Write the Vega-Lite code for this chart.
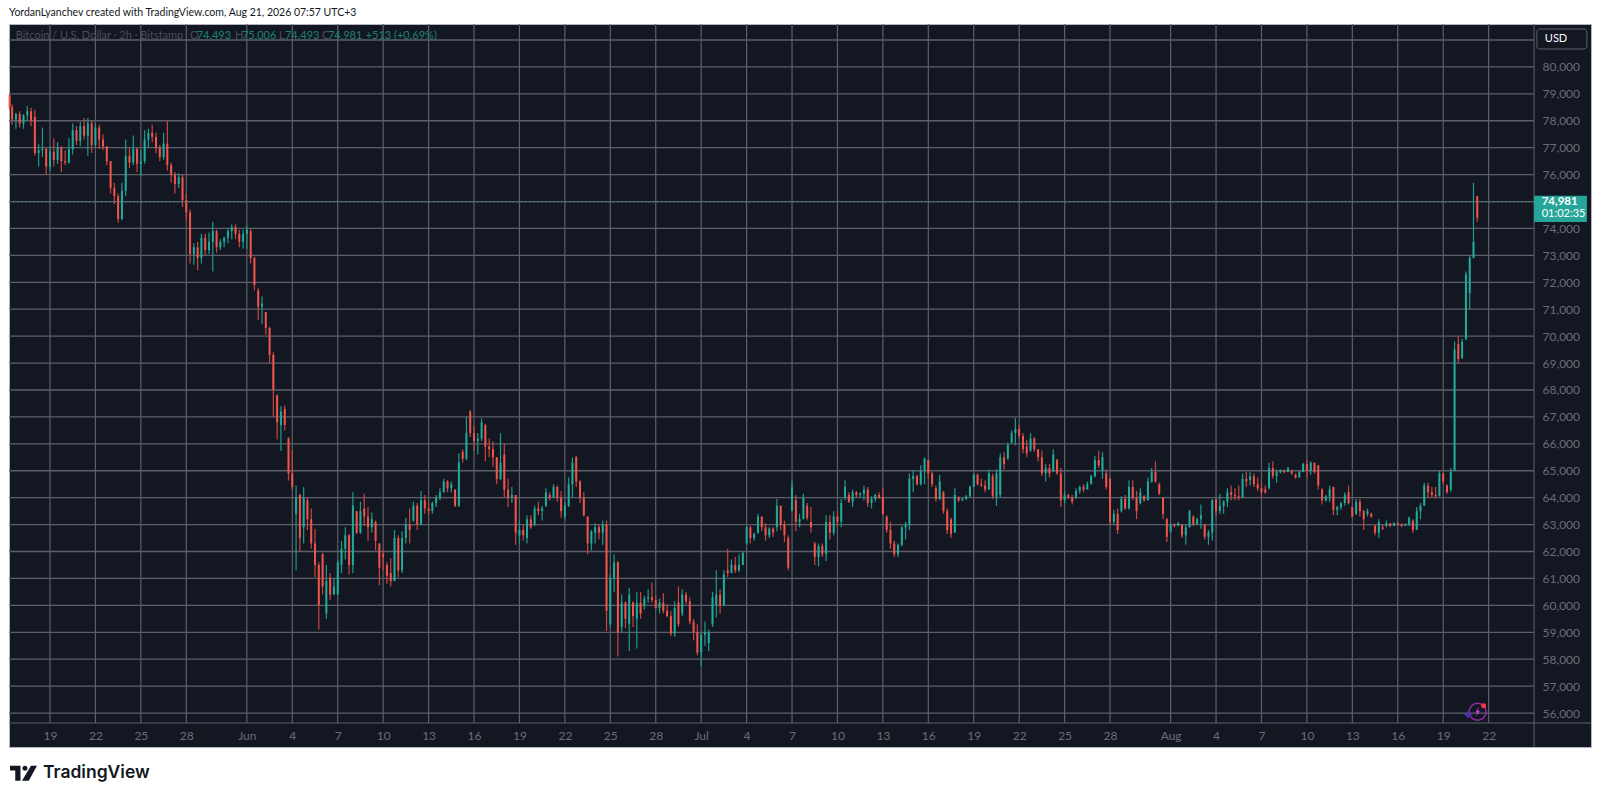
{
"$schema":"https://vega.github.io/schema/vega-lite/v6.json",
"autosize":{"type":"none"},
"width":1582,
"height":723,
"padding":{"left":9,"top":24,"right":9,"bottom":53},
"background":"#ffffff",
"view":{"fill":"#131722","stroke":"#b2b5be"},
"config":{"text":{"font":"Lato"},"axis":{"labelFont":"Lato"}},
"datasets":{
"one":[{}],
"levels":[{"p":56000},{"p":57000},{"p":58000},{"p":59000},{"p":60000},{"p":61000},{"p":62000},{"p":63000},{"p":64000},{"p":65000},{"p":66000},{"p":67000},{"p":68000},{"p":69000},{"p":70000},{"p":71000},{"p":72000},{"p":73000},{"p":74000},{"p":75000},{"p":76000},{"p":77000},{"p":78000},{"p":79000},{"p":80000},{"p":81000}],
"days":[{"d":"2026-05-19T00:00"},{"d":"2026-05-22T00:00"},{"d":"2026-05-25T00:00"},{"d":"2026-05-28T00:00"},{"d":"2026-06-01T00:00"},{"d":"2026-06-04T00:00"},{"d":"2026-06-07T00:00"},{"d":"2026-06-10T00:00"},{"d":"2026-06-13T00:00"},{"d":"2026-06-16T00:00"},{"d":"2026-06-19T00:00"},{"d":"2026-06-22T00:00"},{"d":"2026-06-25T00:00"},{"d":"2026-06-28T00:00"},{"d":"2026-07-01T00:00"},{"d":"2026-07-04T00:00"},{"d":"2026-07-07T00:00"},{"d":"2026-07-10T00:00"},{"d":"2026-07-13T00:00"},{"d":"2026-07-16T00:00"},{"d":"2026-07-19T00:00"},{"d":"2026-07-22T00:00"},{"d":"2026-07-25T00:00"},{"d":"2026-07-28T00:00"},{"d":"2026-08-01T00:00"},{"d":"2026-08-04T00:00"},{"d":"2026-08-07T00:00"},{"d":"2026-08-10T00:00"},{"d":"2026-08-13T00:00"},{"d":"2026-08-16T00:00"},{"d":"2026-08-19T00:00"},{"d":"2026-08-22T00:00"}],
"candles":[
{"t":"2026-05-16T08:00","o":78950,"h":79000,"l":78400,"c":78500},
{"t":"2026-05-16T12:00","o":78500,"h":78600,"l":77850,"c":78050},
{"t":"2026-05-16T18:00","o":78050,"h":78300,"l":77700,"c":78250},
{"t":"2026-05-17T00:00","o":78250,"h":78350,"l":77750,"c":77900},
{"t":"2026-05-17T06:00","o":77900,"h":78250,"l":77700,"c":78200},
{"t":"2026-05-17T12:00","o":78200,"h":78550,"l":78000,"c":78350},
{"t":"2026-05-17T18:00","o":78350,"h":78480,"l":77800,"c":78000},
{"t":"2026-05-18T00:00","o":78150,"h":78410,"l":76700,"c":76800},
{"t":"2026-05-18T06:00","o":76800,"h":77150,"l":76300,"c":76900},
{"t":"2026-05-18T12:00","o":76900,"h":77750,"l":76650,"c":76950},
{"t":"2026-05-18T18:00","o":76950,"h":77000,"l":76000,"c":76300},
{"t":"2026-05-19T00:00","o":76300,"h":77050,"l":76150,"c":76850},
{"t":"2026-05-19T06:00","o":76850,"h":77350,"l":76300,"c":76550},
{"t":"2026-05-19T12:00","o":76550,"h":77200,"l":76400,"c":77000},
{"t":"2026-05-19T18:00","o":77000,"h":77050,"l":76100,"c":76500},
{"t":"2026-05-20T00:00","o":76500,"h":76900,"l":76350,"c":76450},
{"t":"2026-05-20T06:00","o":76450,"h":77350,"l":76400,"c":76950},
{"t":"2026-05-20T12:00","o":76950,"h":77900,"l":76750,"c":77650},
{"t":"2026-05-20T18:00","o":77650,"h":77800,"l":77100,"c":77250},
{"t":"2026-05-21T00:00","o":77250,"h":77950,"l":77050,"c":77800},
{"t":"2026-05-21T06:00","o":77800,"h":78100,"l":77300,"c":77450},
{"t":"2026-05-21T12:00","o":77450,"h":78100,"l":76700,"c":77900},
{"t":"2026-05-21T18:00","o":77900,"h":78000,"l":76800,"c":77100},
{"t":"2026-05-22T00:00","o":77100,"h":77900,"l":77000,"c":77750},
{"t":"2026-05-22T06:00","o":77750,"h":77850,"l":76950,"c":77300},
{"t":"2026-05-22T12:00","o":77300,"h":77500,"l":76900,"c":77050},
{"t":"2026-05-22T18:00","o":77050,"h":77050,"l":76350,"c":76500},
{"t":"2026-05-23T00:00","o":76500,"h":76500,"l":75300,"c":75500},
{"t":"2026-05-23T06:00","o":75500,"h":75700,"l":74900,"c":75200},
{"t":"2026-05-23T12:00","o":75200,"h":75300,"l":74200,"c":74350},
{"t":"2026-05-23T18:00","o":74350,"h":75700,"l":74300,"c":75400},
{"t":"2026-05-24T00:00","o":75400,"h":77300,"l":75200,"c":76700},
{"t":"2026-05-24T06:00","o":76700,"h":77000,"l":76250,"c":76450},
{"t":"2026-05-24T12:00","o":76450,"h":77450,"l":76350,"c":76950},
{"t":"2026-05-24T18:00","o":76950,"h":77000,"l":76100,"c":76400},
{"t":"2026-05-25T00:00","o":76400,"h":76900,"l":75950,"c":76500},
{"t":"2026-05-25T06:00","o":76500,"h":77650,"l":76400,"c":77300},
{"t":"2026-05-25T12:00","o":77300,"h":77700,"l":77000,"c":77550},
{"t":"2026-05-25T18:00","o":77550,"h":77850,"l":77200,"c":77400},
{"t":"2026-05-26T00:00","o":77400,"h":77550,"l":76800,"c":77000},
{"t":"2026-05-26T06:00","o":77000,"h":77100,"l":76500,"c":76650},
{"t":"2026-05-26T12:00","o":76650,"h":77550,"l":76550,"c":77150},
{"t":"2026-05-26T18:00","o":77150,"h":78000,"l":76150,"c":76350},
{"t":"2026-05-27T00:00","o":76350,"h":76450,"l":75700,"c":76000},
{"t":"2026-05-27T06:00","o":76000,"h":76100,"l":75300,"c":75650},
{"t":"2026-05-27T12:00","o":75650,"h":76050,"l":75500,"c":75900},
{"t":"2026-05-27T18:00","o":75900,"h":76000,"l":74800,"c":75050},
{"t":"2026-05-28T00:00","o":75050,"h":75300,"l":74300,"c":74600},
{"t":"2026-05-28T06:00","o":74600,"h":74700,"l":72700,"c":73050},
{"t":"2026-05-28T12:00","o":73050,"h":73450,"l":72650,"c":73300},
{"t":"2026-05-28T18:00","o":73300,"h":73500,"l":72450,"c":72900},
{"t":"2026-05-29T00:00","o":72900,"h":73800,"l":72700,"c":73650},
{"t":"2026-05-29T06:00","o":73650,"h":73800,"l":73000,"c":73200},
{"t":"2026-05-29T12:00","o":73200,"h":73850,"l":73050,"c":73500},
{"t":"2026-05-29T18:00","o":73500,"h":74250,"l":72400,"c":73900},
{"t":"2026-05-30T00:00","o":73900,"h":73950,"l":73100,"c":73300},
{"t":"2026-05-30T06:00","o":73300,"h":73600,"l":73200,"c":73500},
{"t":"2026-05-30T12:00","o":73500,"h":73700,"l":73300,"c":73650},
{"t":"2026-05-30T18:00","o":73650,"h":74000,"l":73450,"c":73900},
{"t":"2026-05-31T00:00","o":73900,"h":74150,"l":73600,"c":74050},
{"t":"2026-05-31T06:00","o":74050,"h":74150,"l":73600,"c":73800},
{"t":"2026-05-31T12:00","o":73800,"h":73950,"l":73300,"c":73500},
{"t":"2026-05-31T18:00","o":73500,"h":73950,"l":73250,"c":73800},
{"t":"2026-06-01T00:00","o":73800,"h":74100,"l":73250,"c":73950},
{"t":"2026-06-01T06:00","o":73900,"h":74000,"l":72700,"c":72900},
{"t":"2026-06-01T12:00","o":72900,"h":72950,"l":71700,"c":71900},
{"t":"2026-06-01T18:00","o":71700,"h":71800,"l":70600,"c":71100},
{"t":"2026-06-02T00:00","o":71100,"h":71470,"l":70450,"c":71200},
{"t":"2026-06-02T06:00","o":70900,"h":70900,"l":70050,"c":70300},
{"t":"2026-06-02T12:00","o":70300,"h":70350,"l":69000,"c":69300},
{"t":"2026-06-02T18:00","o":69300,"h":69400,"l":67000,"c":68000},
{"t":"2026-06-03T00:00","o":67800,"h":67830,"l":66160,"c":66800},
{"t":"2026-06-03T06:00","o":66700,"h":67400,"l":65730,"c":67200},
{"t":"2026-06-03T12:00","o":67300,"h":67420,"l":66500,"c":66700},
{"t":"2026-06-03T18:00","o":66200,"h":66250,"l":64640,"c":64900},
{"t":"2026-06-04T00:00","o":64900,"h":65750,"l":64300,"c":64400},
{"t":"2026-06-04T06:00","o":63400,"h":64450,"l":61300,"c":64000},
{"t":"2026-06-04T12:00","o":64100,"h":64150,"l":62000,"c":62500},
{"t":"2026-06-04T18:00","o":62900,"h":64400,"l":62300,"c":64000},
{"t":"2026-06-05T00:00","o":63900,"h":64000,"l":62800,"c":63200},
{"t":"2026-06-05T06:00","o":63200,"h":63600,"l":62100,"c":62300},
{"t":"2026-06-05T12:00","o":62300,"h":62850,"l":61050,"c":61500},
{"t":"2026-06-05T18:00","o":61500,"h":61600,"l":59100,"c":60000},
{"t":"2026-06-06T00:00","o":61900,"h":61950,"l":60400,"c":60700},
{"t":"2026-06-06T06:00","o":59700,"h":61500,"l":59500,"c":60900},
{"t":"2026-06-06T12:00","o":61000,"h":61200,"l":60200,"c":60400},
{"t":"2026-06-06T18:00","o":60400,"h":61000,"l":60400,"c":60700},
{"t":"2026-06-07T00:00","o":60400,"h":61700,"l":60400,"c":61600},
{"t":"2026-06-07T06:00","o":61500,"h":62400,"l":61200,"c":62100},
{"t":"2026-06-07T12:00","o":62100,"h":62900,"l":61700,"c":62600},
{"t":"2026-06-07T18:00","o":62600,"h":62650,"l":61150,"c":61500},
{"t":"2026-06-08T00:00","o":61500,"h":64200,"l":61200,"c":63700},
{"t":"2026-06-08T06:00","o":63500,"h":63500,"l":62650,"c":62700},
{"t":"2026-06-08T12:00","o":62700,"h":63850,"l":62650,"c":63500},
{"t":"2026-06-08T18:00","o":63600,"h":64150,"l":62950,"c":63300},
{"t":"2026-06-09T00:00","o":63300,"h":63650,"l":62400,"c":62900},
{"t":"2026-06-09T06:00","o":62900,"h":63450,"l":62700,"c":63200},
{"t":"2026-06-09T12:00","o":63100,"h":63150,"l":62050,"c":62400},
{"t":"2026-06-09T18:00","o":62300,"h":62300,"l":60750,"c":61400},
{"t":"2026-06-10T00:00","o":61900,"h":62050,"l":61300,"c":61800},
{"t":"2026-06-10T06:00","o":61500,"h":61600,"l":60800,"c":61100},
{"t":"2026-06-10T12:00","o":61200,"h":61750,"l":60700,"c":60900},
{"t":"2026-06-10T18:00","o":60900,"h":62800,"l":60900,"c":62500},
{"t":"2026-06-11T00:00","o":62500,"h":62600,"l":61050,"c":61300},
{"t":"2026-06-11T06:00","o":61300,"h":62750,"l":61200,"c":62500},
{"t":"2026-06-11T12:00","o":62500,"h":63250,"l":62300,"c":63000},
{"t":"2026-06-11T18:00","o":63000,"h":63600,"l":62300,"c":62800},
{"t":"2026-06-12T00:00","o":63150,"h":63850,"l":63100,"c":63700},
{"t":"2026-06-12T06:00","o":63700,"h":63800,"l":62800,"c":63000},
{"t":"2026-06-12T12:00","o":63000,"h":64250,"l":63000,"c":63900},
{"t":"2026-06-12T18:00","o":63900,"h":64100,"l":63400,"c":63600},
{"t":"2026-06-13T00:00","o":63600,"h":63850,"l":63350,"c":63500},
{"t":"2026-06-13T06:00","o":63500,"h":63850,"l":63400,"c":63800},
{"t":"2026-06-13T12:00","o":63800,"h":64100,"l":63650,"c":64000},
{"t":"2026-06-13T18:00","o":64000,"h":64350,"l":63900,"c":64200},
{"t":"2026-06-14T00:00","o":64200,"h":64700,"l":64200,"c":64600},
{"t":"2026-06-14T06:00","o":64600,"h":64650,"l":64200,"c":64350},
{"t":"2026-06-14T12:00","o":64350,"h":64600,"l":64200,"c":64500},
{"t":"2026-06-14T18:00","o":64300,"h":64300,"l":63650,"c":63700},
{"t":"2026-06-15T00:00","o":63700,"h":65650,"l":63650,"c":65300},
{"t":"2026-06-15T06:00","o":65700,"h":65800,"l":65300,"c":65450},
{"t":"2026-06-15T12:00","o":65450,"h":67000,"l":65400,"c":66400},
{"t":"2026-06-15T18:00","o":67200,"h":67250,"l":66250,"c":66400},
{"t":"2026-06-16T00:00","o":66400,"h":66650,"l":65750,"c":66100},
{"t":"2026-06-16T06:00","o":66100,"h":66400,"l":65600,"c":66200},
{"t":"2026-06-16T12:00","o":66200,"h":66950,"l":66100,"c":66800},
{"t":"2026-06-16T18:00","o":66700,"h":66750,"l":65350,"c":65900},
{"t":"2026-06-17T00:00","o":65900,"h":66200,"l":65500,"c":65800},
{"t":"2026-06-17T06:00","o":65800,"h":66100,"l":65150,"c":65500},
{"t":"2026-06-17T12:00","o":65500,"h":65500,"l":64500,"c":64700},
{"t":"2026-06-17T18:00","o":64700,"h":66400,"l":64650,"c":65300},
{"t":"2026-06-18T00:00","o":65600,"h":66000,"l":64000,"c":64300},
{"t":"2026-06-18T06:00","o":64300,"h":64700,"l":63650,"c":64000},
{"t":"2026-06-18T12:00","o":64000,"h":64400,"l":63800,"c":64100},
{"t":"2026-06-18T18:00","o":64100,"h":64100,"l":62250,"c":62700},
{"t":"2026-06-19T00:00","o":62600,"h":63200,"l":62300,"c":62800},
{"t":"2026-06-19T06:00","o":62800,"h":63000,"l":62400,"c":62600},
{"t":"2026-06-19T12:00","o":62500,"h":63350,"l":62300,"c":63200},
{"t":"2026-06-19T18:00","o":63200,"h":63350,"l":62850,"c":62900},
{"t":"2026-06-20T00:00","o":63000,"h":63700,"l":62950,"c":63600},
{"t":"2026-06-20T06:00","o":63600,"h":63850,"l":63350,"c":63500},
{"t":"2026-06-20T12:00","o":63500,"h":63700,"l":63150,"c":63600},
{"t":"2026-06-20T18:00","o":63700,"h":64350,"l":63650,"c":64200},
{"t":"2026-06-21T00:00","o":64100,"h":64200,"l":63900,"c":64000},
{"t":"2026-06-21T06:00","o":64000,"h":64500,"l":64000,"c":64400},
{"t":"2026-06-21T12:00","o":64400,"h":64450,"l":63850,"c":64000},
{"t":"2026-06-21T18:00","o":64000,"h":64250,"l":63250,"c":63500},
{"t":"2026-06-22T00:00","o":63300,"h":63850,"l":63200,"c":63700},
{"t":"2026-06-22T06:00","o":63700,"h":64750,"l":63650,"c":64500},
{"t":"2026-06-22T12:00","o":64500,"h":65500,"l":64000,"c":65300},
{"t":"2026-06-22T18:00","o":65500,"h":65550,"l":64400,"c":64600},
{"t":"2026-06-23T00:00","o":64600,"h":64650,"l":63800,"c":64000},
{"t":"2026-06-23T06:00","o":64000,"h":64200,"l":63300,"c":63350},
{"t":"2026-06-23T12:00","o":63300,"h":63300,"l":61900,"c":62300},
{"t":"2026-06-23T18:00","o":62300,"h":62800,"l":62050,"c":62750},
{"t":"2026-06-24T00:00","o":62700,"h":63050,"l":62300,"c":62900},
{"t":"2026-06-24T06:00","o":62900,"h":63000,"l":62450,"c":62700},
{"t":"2026-06-24T12:00","o":62700,"h":63150,"l":62250,"c":63000},
{"t":"2026-06-24T18:00","o":63000,"h":63150,"l":59050,"c":59800},
{"t":"2026-06-25T00:00","o":59300,"h":61150,"l":59200,"c":61000},
{"t":"2026-06-25T06:00","o":61000,"h":61900,"l":60500,"c":61600},
{"t":"2026-06-25T12:00","o":61600,"h":61650,"l":58100,"c":59000},
{"t":"2026-06-25T18:00","o":59200,"h":60400,"l":59000,"c":60100},
{"t":"2026-06-26T00:00","o":60100,"h":60150,"l":59150,"c":59500},
{"t":"2026-06-26T06:00","o":59300,"h":60650,"l":58300,"c":60400},
{"t":"2026-06-26T12:00","o":60100,"h":60150,"l":59200,"c":59600},
{"t":"2026-06-26T18:00","o":59500,"h":60500,"l":58400,"c":60100},
{"t":"2026-06-27T00:00","o":60100,"h":60500,"l":59500,"c":59700},
{"t":"2026-06-27T06:00","o":60000,"h":60350,"l":59850,"c":60250},
{"t":"2026-06-27T12:00","o":60250,"h":60600,"l":60100,"c":60300},
{"t":"2026-06-27T18:00","o":60300,"h":60850,"l":60100,"c":60200},
{"t":"2026-06-28T00:00","o":60200,"h":60350,"l":59850,"c":59900},
{"t":"2026-06-28T06:00","o":59900,"h":60250,"l":59700,"c":60100},
{"t":"2026-06-28T12:00","o":60100,"h":60450,"l":59700,"c":59800},
{"t":"2026-06-28T18:00","o":59800,"h":60050,"l":59550,"c":59600},
{"t":"2026-06-29T00:00","o":59600,"h":59800,"l":58850,"c":58950},
{"t":"2026-06-29T06:00","o":58950,"h":60150,"l":58830,"c":59900},
{"t":"2026-06-29T12:00","o":60100,"h":60700,"l":59200,"c":59300},
{"t":"2026-06-29T18:00","o":59700,"h":60600,"l":59600,"c":60400},
{"t":"2026-06-30T00:00","o":60400,"h":60500,"l":60050,"c":60150},
{"t":"2026-06-30T06:00","o":60150,"h":60300,"l":59300,"c":59400},
{"t":"2026-06-30T12:00","o":59400,"h":59500,"l":58700,"c":59000},
{"t":"2026-06-30T18:00","o":59000,"h":59300,"l":58150,"c":58250},
{"t":"2026-07-01T00:00","o":58250,"h":59000,"l":57750,"c":58900},
{"t":"2026-07-01T06:00","o":58900,"h":59400,"l":58500,"c":59000},
{"t":"2026-07-01T12:00","o":58600,"h":59100,"l":58300,"c":59000},
{"t":"2026-07-01T18:00","o":59300,"h":60500,"l":59200,"c":60300},
{"t":"2026-07-02T00:00","o":60000,"h":61300,"l":59550,"c":60400},
{"t":"2026-07-02T06:00","o":60400,"h":60600,"l":59700,"c":60000},
{"t":"2026-07-02T12:00","o":60000,"h":61300,"l":60000,"c":61150},
{"t":"2026-07-02T18:00","o":61300,"h":62100,"l":61050,"c":61200},
{"t":"2026-07-03T00:00","o":61200,"h":61700,"l":61200,"c":61500},
{"t":"2026-07-03T06:00","o":61500,"h":61800,"l":61200,"c":61300},
{"t":"2026-07-03T12:00","o":61300,"h":61900,"l":61250,"c":61500},
{"t":"2026-07-03T18:00","o":61500,"h":62000,"l":61500,"c":61950},
{"t":"2026-07-04T00:00","o":62300,"h":62950,"l":62250,"c":62900},
{"t":"2026-07-04T06:00","o":62900,"h":62950,"l":62300,"c":62500},
{"t":"2026-07-04T12:00","o":62500,"h":62700,"l":62400,"c":62650},
{"t":"2026-07-04T18:00","o":62700,"h":63400,"l":62650,"c":63300},
{"t":"2026-07-05T00:00","o":63300,"h":63300,"l":62750,"c":62900},
{"t":"2026-07-05T06:00","o":62900,"h":63050,"l":62400,"c":62600},
{"t":"2026-07-05T12:00","o":62600,"h":62900,"l":62500,"c":62850},
{"t":"2026-07-05T18:00","o":62850,"h":62900,"l":62550,"c":62700},
{"t":"2026-07-06T00:00","o":62900,"h":63950,"l":62750,"c":63700},
{"t":"2026-07-06T06:00","o":63700,"h":63700,"l":62800,"c":63000},
{"t":"2026-07-06T12:00","o":63000,"h":63150,"l":62350,"c":62600},
{"t":"2026-07-06T18:00","o":62500,"h":62600,"l":61300,"c":61400},
{"t":"2026-07-07T00:00","o":63500,"h":64650,"l":63500,"c":64400},
{"t":"2026-07-07T06:00","o":63900,"h":64100,"l":62750,"c":63100},
{"t":"2026-07-07T12:00","o":63100,"h":63400,"l":62900,"c":63200},
{"t":"2026-07-07T18:00","o":63200,"h":64150,"l":63200,"c":64000},
{"t":"2026-07-08T00:00","o":63700,"h":63800,"l":63150,"c":63250},
{"t":"2026-07-08T06:00","o":63100,"h":63650,"l":62700,"c":62900},
{"t":"2026-07-08T12:00","o":62300,"h":62350,"l":61500,"c":61800},
{"t":"2026-07-08T18:00","o":61800,"h":62300,"l":61450,"c":62200},
{"t":"2026-07-09T00:00","o":62200,"h":62300,"l":61800,"c":61900},
{"t":"2026-07-09T06:00","o":61900,"h":63350,"l":61650,"c":63100},
{"t":"2026-07-09T12:00","o":63100,"h":63350,"l":62450,"c":62700},
{"t":"2026-07-09T18:00","o":62700,"h":63500,"l":62600,"c":63300},
{"t":"2026-07-10T00:00","o":63300,"h":63500,"l":62900,"c":63100},
{"t":"2026-07-10T06:00","o":63100,"h":63950,"l":62900,"c":63800},
{"t":"2026-07-10T12:00","o":64000,"h":64650,"l":63900,"c":64400},
{"t":"2026-07-10T18:00","o":64100,"h":64200,"l":63800,"c":63850},
{"t":"2026-07-11T00:00","o":63850,"h":64300,"l":63650,"c":64200},
{"t":"2026-07-11T06:00","o":64200,"h":64250,"l":64000,"c":64100},
{"t":"2026-07-11T12:00","o":64100,"h":64200,"l":64000,"c":64150},
{"t":"2026-07-11T18:00","o":64150,"h":64450,"l":63900,"c":64300},
{"t":"2026-07-12T00:00","o":64300,"h":64400,"l":63650,"c":63800},
{"t":"2026-07-12T06:00","o":63800,"h":64050,"l":63600,"c":63950},
{"t":"2026-07-12T12:00","o":63950,"h":64150,"l":63850,"c":64100},
{"t":"2026-07-12T18:00","o":64100,"h":64200,"l":63950,"c":64000},
{"t":"2026-07-13T00:00","o":64000,"h":64350,"l":63350,"c":63400},
{"t":"2026-07-13T06:00","o":63300,"h":63350,"l":62700,"c":62800},
{"t":"2026-07-13T12:00","o":62800,"h":63100,"l":62100,"c":62300},
{"t":"2026-07-13T18:00","o":62300,"h":62400,"l":61800,"c":61900},
{"t":"2026-07-14T00:00","o":61900,"h":62300,"l":61800,"c":62250},
{"t":"2026-07-14T06:00","o":62250,"h":62950,"l":62200,"c":62900},
{"t":"2026-07-14T12:00","o":62900,"h":63100,"l":62450,"c":63000},
{"t":"2026-07-14T18:00","o":63000,"h":64900,"l":62800,"c":64700},
{"t":"2026-07-15T00:00","o":64700,"h":65000,"l":64200,"c":64800},
{"t":"2026-07-15T06:00","o":64800,"h":64850,"l":64450,"c":64500},
{"t":"2026-07-15T12:00","o":64500,"h":65200,"l":64450,"c":65000},
{"t":"2026-07-15T18:00","o":65000,"h":65500,"l":64500,"c":65450},
{"t":"2026-07-16T00:00","o":65400,"h":65400,"l":64700,"c":64900},
{"t":"2026-07-16T06:00","o":64900,"h":64950,"l":64400,"c":64500},
{"t":"2026-07-16T12:00","o":64350,"h":64450,"l":63850,"c":63950},
{"t":"2026-07-16T18:00","o":63950,"h":64850,"l":63900,"c":64600},
{"t":"2026-07-17T00:00","o":64200,"h":64250,"l":63400,"c":63500},
{"t":"2026-07-17T06:00","o":63500,"h":63600,"l":62650,"c":62800},
{"t":"2026-07-17T12:00","o":63200,"h":63250,"l":62500,"c":62650},
{"t":"2026-07-17T18:00","o":62700,"h":64350,"l":62700,"c":64100},
{"t":"2026-07-18T00:00","o":64000,"h":64050,"l":63850,"c":63900},
{"t":"2026-07-18T06:00","o":63900,"h":64000,"l":63880,"c":63950},
{"t":"2026-07-18T12:00","o":63950,"h":64100,"l":63900,"c":64050},
{"t":"2026-07-18T18:00","o":64050,"h":64450,"l":64000,"c":64400},
{"t":"2026-07-19T00:00","o":64400,"h":64900,"l":64400,"c":64850},
{"t":"2026-07-19T06:00","o":64850,"h":64900,"l":64450,"c":64500},
{"t":"2026-07-19T12:00","o":64500,"h":64700,"l":64400,"c":64450},
{"t":"2026-07-19T18:00","o":64450,"h":64650,"l":64200,"c":64300},
{"t":"2026-07-20T00:00","o":64300,"h":65050,"l":64300,"c":64900},
{"t":"2026-07-20T06:00","o":64800,"h":64900,"l":63950,"c":64050},
{"t":"2026-07-20T12:00","o":64000,"h":65050,"l":63700,"c":64900},
{"t":"2026-07-20T18:00","o":64100,"h":65650,"l":64000,"c":65500},
{"t":"2026-07-21T00:00","o":65500,"h":65700,"l":65050,"c":65250},
{"t":"2026-07-21T06:00","o":65450,"h":66050,"l":65400,"c":65950},
{"t":"2026-07-21T12:00","o":66050,"h":66500,"l":66000,"c":66400},
{"t":"2026-07-21T18:00","o":66400,"h":66950,"l":65950,"c":66550},
{"t":"2026-07-22T00:00","o":66550,"h":66700,"l":66200,"c":66300},
{"t":"2026-07-22T06:00","o":66300,"h":66400,"l":65650,"c":65800},
{"t":"2026-07-22T12:00","o":65900,"h":66150,"l":65500,"c":65650},
{"t":"2026-07-22T18:00","o":65750,"h":66400,"l":65700,"c":66200},
{"t":"2026-07-23T00:00","o":66200,"h":66250,"l":65700,"c":65800},
{"t":"2026-07-23T06:00","o":65800,"h":65800,"l":65350,"c":65500},
{"t":"2026-07-23T12:00","o":65500,"h":65750,"l":64800,"c":64900},
{"t":"2026-07-23T18:00","o":64900,"h":65250,"l":64600,"c":65100},
{"t":"2026-07-24T00:00","o":65100,"h":65250,"l":64750,"c":64900},
{"t":"2026-07-24T06:00","o":65000,"h":65800,"l":64950,"c":65600},
{"t":"2026-07-24T12:00","o":65400,"h":65450,"l":64850,"c":64900},
{"t":"2026-07-24T18:00","o":64900,"h":65100,"l":63650,"c":63900},
{"t":"2026-07-25T00:00","o":63900,"h":64250,"l":63800,"c":64100},
{"t":"2026-07-25T06:00","o":64100,"h":64150,"l":63950,"c":64000},
{"t":"2026-07-25T12:00","o":64000,"h":64100,"l":63750,"c":63850},
{"t":"2026-07-25T18:00","o":64000,"h":64350,"l":63950,"c":64250},
{"t":"2026-07-26T00:00","o":64250,"h":64450,"l":64150,"c":64400},
{"t":"2026-07-26T06:00","o":64400,"h":64500,"l":64200,"c":64300},
{"t":"2026-07-26T12:00","o":64300,"h":64600,"l":64300,"c":64500},
{"t":"2026-07-26T18:00","o":64500,"h":64850,"l":64500,"c":64800},
{"t":"2026-07-27T00:00","o":64800,"h":65550,"l":64750,"c":65400},
{"t":"2026-07-27T06:00","o":65400,"h":65750,"l":65100,"c":65200},
{"t":"2026-07-27T12:00","o":65000,"h":65700,"l":64700,"c":65500},
{"t":"2026-07-27T18:00","o":64900,"h":65050,"l":64300,"c":64400},
{"t":"2026-07-28T00:00","o":64700,"h":64750,"l":63000,"c":63100},
{"t":"2026-07-28T06:00","o":63100,"h":63550,"l":63000,"c":63400},
{"t":"2026-07-28T12:00","o":63400,"h":63600,"l":62650,"c":62800},
{"t":"2026-07-28T18:00","o":63500,"h":64050,"l":63450,"c":63950},
{"t":"2026-07-29T00:00","o":63950,"h":64100,"l":63550,"c":63600},
{"t":"2026-07-29T06:00","o":63600,"h":64650,"l":63550,"c":64400},
{"t":"2026-07-29T12:00","o":64400,"h":64650,"l":63900,"c":64000},
{"t":"2026-07-29T18:00","o":64000,"h":64250,"l":63200,"c":63500},
{"t":"2026-07-30T00:00","o":63800,"h":64350,"l":63750,"c":64200},
{"t":"2026-07-30T06:00","o":64050,"h":64100,"l":63850,"c":63900},
{"t":"2026-07-30T12:00","o":63900,"h":64750,"l":63900,"c":64600},
{"t":"2026-07-30T18:00","o":64600,"h":65100,"l":64550,"c":64950},
{"t":"2026-07-31T00:00","o":64950,"h":65350,"l":64550,"c":64600},
{"t":"2026-07-31T06:00","o":64500,"h":64550,"l":64100,"c":64150},
{"t":"2026-07-31T12:00","o":64000,"h":64000,"l":63200,"c":63400},
{"t":"2026-07-31T18:00","o":63200,"h":63250,"l":62350,"c":62550},
{"t":"2026-08-01T00:00","o":62750,"h":63050,"l":62700,"c":63000},
{"t":"2026-08-01T06:00","o":63000,"h":63050,"l":62900,"c":62950},
{"t":"2026-08-01T12:00","o":62950,"h":63100,"l":62950,"c":63050},
{"t":"2026-08-01T18:00","o":63000,"h":63000,"l":62500,"c":62600},
{"t":"2026-08-02T00:00","o":62600,"h":63000,"l":62250,"c":62900},
{"t":"2026-08-02T06:00","o":62900,"h":63550,"l":62900,"c":63500},
{"t":"2026-08-02T12:00","o":63300,"h":63350,"l":62950,"c":63000},
{"t":"2026-08-02T18:00","o":63000,"h":63250,"l":63000,"c":63200},
{"t":"2026-08-03T00:00","o":63200,"h":63750,"l":62850,"c":63350},
{"t":"2026-08-03T06:00","o":63000,"h":63000,"l":62450,"c":62550},
{"t":"2026-08-03T12:00","o":62550,"h":62800,"l":62250,"c":62700},
{"t":"2026-08-03T18:00","o":62700,"h":63950,"l":62400,"c":63900},
{"t":"2026-08-04T00:00","o":63950,"h":63950,"l":63300,"c":63500},
{"t":"2026-08-04T06:00","o":63500,"h":64150,"l":63400,"c":63700},
{"t":"2026-08-04T12:00","o":63700,"h":63900,"l":63400,"c":63850},
{"t":"2026-08-04T18:00","o":63850,"h":64350,"l":63650,"c":64200},
{"t":"2026-08-05T00:00","o":64200,"h":64450,"l":63900,"c":64100},
{"t":"2026-08-05T06:00","o":64100,"h":64350,"l":63900,"c":64050},
{"t":"2026-08-05T12:00","o":64050,"h":64450,"l":63900,"c":64000},
{"t":"2026-08-05T18:00","o":64000,"h":64900,"l":64000,"c":64700},
{"t":"2026-08-06T00:00","o":64700,"h":64950,"l":64400,"c":64600},
{"t":"2026-08-06T06:00","o":64650,"h":64950,"l":64450,"c":64800},
{"t":"2026-08-06T12:00","o":64800,"h":64900,"l":64400,"c":64500},
{"t":"2026-08-06T18:00","o":64500,"h":64750,"l":64250,"c":64350},
{"t":"2026-08-07T00:00","o":64350,"h":64600,"l":64000,"c":64200},
{"t":"2026-08-07T06:00","o":64300,"h":64450,"l":64150,"c":64200},
{"t":"2026-08-07T12:00","o":64350,"h":65300,"l":64300,"c":65100},
{"t":"2026-08-07T18:00","o":65100,"h":65350,"l":64700,"c":64800},
{"t":"2026-08-08T00:00","o":64800,"h":65050,"l":64550,"c":64950},
{"t":"2026-08-08T06:00","o":64950,"h":65050,"l":64900,"c":65000},
{"t":"2026-08-08T12:00","o":65000,"h":65050,"l":64900,"c":64950},
{"t":"2026-08-08T18:00","o":64950,"h":65150,"l":64950,"c":65100},
{"t":"2026-08-09T00:00","o":65000,"h":65050,"l":64850,"c":64900},
{"t":"2026-08-09T06:00","o":64850,"h":64900,"l":64700,"c":64750},
{"t":"2026-08-09T12:00","o":64750,"h":65000,"l":64750,"c":64950},
{"t":"2026-08-09T18:00","o":64950,"h":65300,"l":64950,"c":65250},
{"t":"2026-08-10T00:00","o":65250,"h":65400,"l":64750,"c":65000},
{"t":"2026-08-10T06:00","o":65000,"h":65350,"l":64850,"c":65300},
{"t":"2026-08-10T12:00","o":65300,"h":65300,"l":64900,"c":64950},
{"t":"2026-08-10T18:00","o":65200,"h":65200,"l":64300,"c":64450},
{"t":"2026-08-11T00:00","o":64300,"h":64350,"l":63750,"c":63900},
{"t":"2026-08-11T06:00","o":63900,"h":64100,"l":63850,"c":64050},
{"t":"2026-08-11T12:00","o":64050,"h":64450,"l":63850,"c":64300},
{"t":"2026-08-11T18:00","o":64400,"h":64400,"l":63350,"c":63550},
{"t":"2026-08-12T00:00","o":63550,"h":63700,"l":63350,"c":63650},
{"t":"2026-08-12T06:00","o":63650,"h":63850,"l":63550,"c":63800},
{"t":"2026-08-12T12:00","o":63800,"h":64200,"l":63700,"c":64100},
{"t":"2026-08-12T18:00","o":64200,"h":64450,"l":63750,"c":63800},
{"t":"2026-08-13T00:00","o":63650,"h":63670,"l":63250,"c":63300},
{"t":"2026-08-13T06:00","o":63400,"h":63950,"l":63350,"c":63850},
{"t":"2026-08-13T12:00","o":63850,"h":63950,"l":63300,"c":63500},
{"t":"2026-08-13T18:00","o":63500,"h":63550,"l":62800,"c":63200},
{"t":"2026-08-14T00:00","o":63400,"h":63600,"l":63300,"c":63500},
{"t":"2026-08-14T06:00","o":63400,"h":63450,"l":63250,"c":63300},
{"t":"2026-08-14T12:00","o":62950,"h":63000,"l":62600,"c":62700},
{"t":"2026-08-14T18:00","o":62700,"h":63200,"l":62500,"c":63100},
{"t":"2026-08-15T00:00","o":62900,"h":63000,"l":62800,"c":62850},
{"t":"2026-08-15T06:00","o":62950,"h":63150,"l":62900,"c":63050},
{"t":"2026-08-15T12:00","o":63050,"h":63050,"l":62900,"c":62950},
{"t":"2026-08-15T18:00","o":62950,"h":63100,"l":62950,"c":63050},
{"t":"2026-08-16T00:00","o":63050,"h":63100,"l":62980,"c":63000},
{"t":"2026-08-16T06:00","o":63000,"h":63050,"l":62900,"c":62950},
{"t":"2026-08-16T12:00","o":62950,"h":63050,"l":62950,"c":63000},
{"t":"2026-08-16T18:00","o":63000,"h":63300,"l":62950,"c":63250},
{"t":"2026-08-17T00:00","o":63150,"h":63200,"l":62700,"c":62800},
{"t":"2026-08-17T06:00","o":62800,"h":63650,"l":62800,"c":63500},
{"t":"2026-08-17T12:00","o":63500,"h":63800,"l":63200,"c":63700},
{"t":"2026-08-17T18:00","o":63700,"h":64550,"l":63700,"c":64450},
{"t":"2026-08-18T00:00","o":64450,"h":64550,"l":64000,"c":64200},
{"t":"2026-08-18T06:00","o":64200,"h":64400,"l":64000,"c":64100},
{"t":"2026-08-18T12:00","o":64100,"h":64400,"l":64000,"c":64050},
{"t":"2026-08-18T18:00","o":64050,"h":65000,"l":64050,"c":64900},
{"t":"2026-08-19T00:00","o":64900,"h":64900,"l":64500,"c":64600},
{"t":"2026-08-19T06:00","o":64450,"h":64500,"l":64150,"c":64200},
{"t":"2026-08-19T12:00","o":64300,"h":65100,"l":64200,"c":64950},
{"t":"2026-08-19T18:00","o":65000,"h":69800,"l":65000,"c":69500},
{"t":"2026-08-20T00:00","o":69700,"h":70000,"l":69000,"c":69150},
{"t":"2026-08-20T06:00","o":69200,"h":69900,"l":69150,"c":69800},
{"t":"2026-08-20T12:00","o":69900,"h":72400,"l":69850,"c":72300},
{"t":"2026-08-20T18:00","o":71600,"h":73000,"l":71000,"c":72900},
{"t":"2026-08-21T00:00","o":72900,"h":75700,"l":72900,"c":73500},
{"t":"2026-08-21T06:00","o":75200,"h":75200,"l":74250,"c":74400}
]},
"layer":[
{"data":{"name":"levels"},"mark":{"type":"rule","color":"#5d606b","strokeWidth":1.3},
 "encoding":{
  "x":{"datum":{"year":2026,"month":5,"date":16,"hours":7,"minutes":2},"type":"temporal","scale":{"nice":false,"padding":0,"domain":[{"year":2026,"month":5,"date":16,"hours":7,"minutes":2},{"year":2026,"month":8,"date":28,"hours":18,"minutes":14}]},"axis":{"orient":"bottom","offset":-24,"title":null,"grid":false,"domain":false,"ticks":false,"labelColor":"#6a6d78","labelFontSize":12,"labelPadding":7,"labelOverlap":false,"values":["2026-05-19T00:00","2026-05-22T00:00","2026-05-25T00:00","2026-05-28T00:00","2026-06-01T00:00","2026-06-04T00:00","2026-06-07T00:00","2026-06-10T00:00","2026-06-13T00:00","2026-06-16T00:00","2026-06-19T00:00","2026-06-22T00:00","2026-06-25T00:00","2026-06-28T00:00","2026-07-01T00:00","2026-07-04T00:00","2026-07-07T00:00","2026-07-10T00:00","2026-07-13T00:00","2026-07-16T00:00","2026-07-19T00:00","2026-07-22T00:00","2026-07-25T00:00","2026-07-28T00:00","2026-08-01T00:00","2026-08-04T00:00","2026-08-07T00:00","2026-08-10T00:00","2026-08-13T00:00","2026-08-16T00:00","2026-08-19T00:00","2026-08-22T00:00"],"labelExpr":"date(datum.value)==1 ? timeFormat(datum.value,'%b') : timeFormat(datum.value,'%-d')"}},
  "x2":{"datum":{"year":2026,"month":8,"date":25}},
  "y":{"field":"p","type":"quantitative","scale":{"domain":[54739,81594],"nice":false,"zero":false,"padding":0},"axis":{"orient":"right","offset":-57,"title":null,"grid":false,"domain":false,"ticks":false,"labelColor":"#6a6d78","labelFontSize":12,"labelPadding":8,"labelOverlap":false,"format":",d","tickCount":26,"values":[56000,57000,58000,59000,60000,61000,62000,63000,64000,65000,66000,67000,68000,69000,70000,71000,72000,73000,74000,75000,76000,77000,78000,79000,80000]}}}},
{"data":{"name":"days"},"mark":{"type":"rule","color":"#5d606b","strokeWidth":1.2},
 "encoding":{"x":{"field":"d","type":"temporal"},"y":{"datum":81594},"y2":{"datum":55630}}},
{"data":{"name":"one"},"mark":{"type":"rule","color":"#5d606b","strokeWidth":1},"encoding":{"x":{"datum":{"year":2026,"month":8,"date":25},"type":"temporal"},"y":{"datum":81594},"y2":{"datum":54739}}},
{"data":{"name":"one"},"mark":{"type":"rule","color":"#5d606b","strokeWidth":1},"encoding":{"x":{"datum":{"year":2026,"month":5,"date":16,"hours":7,"minutes":2},"type":"temporal"},"x2":{"datum":{"year":2026,"month":8,"date":28,"hours":18,"minutes":14}},"y":{"datum":55630}}},
{"data":{"name":"candles"},"mark":{"type":"rule","strokeWidth":1.2},
 "encoding":{"x":{"field":"t","type":"temporal"},"y":{"field":"l","type":"quantitative"},"y2":{"field":"h"},
  "color":{"condition":{"test":"datum.c>=datum.o","value":"#1f9a8c"},"value":"#c9463f"}}},
{"data":{"name":"candles"},"mark":{"type":"bar","width":2},
 "encoding":{"x":{"field":"t","type":"temporal"},"y":{"field":"o","type":"quantitative"},"y2":{"field":"c"},
  "color":{"condition":{"test":"datum.c>=datum.o","value":"#22ab9b"},"value":"#f0544c"}}},
{"data":{"name":"one"},"mark":{"type":"rule","color":"#26a69a","strokeWidth":1,"strokeDash":[1,3]},"encoding":{"x":{"datum":{"year":2026,"month":5,"date":16,"hours":7,"minutes":2},"type":"temporal"},"x2":{"datum":{"year":2026,"month":8,"date":25}},"y":{"datum":74981}}},
{"data":{"name":"one"},"mark":{"type":"rect","color":"#26a69a"},"encoding":{"x":{"datum":{"year":2026,"month":8,"date":25},"type":"temporal"},"x2":{"datum":{"year":2026,"month":8,"date":28,"hours":11,"minutes":45}},"y":{"datum":75219},"y2":{"datum":74242}}},
{"data":{"name":"one"},"mark":{"type":"text","color":"#ffffff","fontWeight":"bold","fontSize":11.5,"align":"left","baseline":"middle"},"encoding":{"text":{"value":"74,981"},"x":{"datum":{"year":2026,"month":8,"date":25,"hours":12},"type":"temporal"},"y":{"datum":74974}}},
{"data":{"name":"one"},"mark":{"type":"text","color":"#ffffff","fontSize":11,"align":"left","baseline":"middle"},"encoding":{"text":{"value":"01:02:35"},"x":{"datum":{"year":2026,"month":8,"date":25,"hours":12},"type":"temporal"},"y":{"datum":74528}}},
{"data":{"name":"one"},"mark":{"type":"rect","fill":"#131722","stroke":"#5d606b","cornerRadius":3},"encoding":{"x":{"datum":{"year":2026,"month":8,"date":25,"hours":4,"minutes":30},"type":"temporal"},"x2":{"datum":{"year":2026,"month":8,"date":28,"hours":11,"minutes":45}},"y":{"datum":81408},"y2":{"datum":80666}}},
{"data":{"name":"one"},"mark":{"type":"text","color":"#ffffff","fontSize":11,"align":"left","baseline":"middle"},"encoding":{"text":{"value":"USD"},"x":{"datum":{"year":2026,"month":8,"date":25,"hours":17},"type":"temporal"},"y":{"datum":81037}}},
{"data":{"name":"one"},"mark":{"type":"text","color":"#4a4e59","fontSize":11,"align":"left","baseline":"middle"},"encoding":{"text":{"value":"Bitcoin / U.S. Dollar · 2h · Bitstamp"},"x":{"datum":{"year":2026,"month":5,"date":16,"hours":17,"minutes":38},"type":"temporal"},"y":{"datum":81149}}},
{"data":{"name":"one"},"mark":{"type":"text","color":"#4a4e59","fontSize":11,"align":"left","baseline":"middle"},"encoding":{"text":{"value":"O"},"x":{"datum":{"year":2026,"month":5,"date":28,"hours":5,"minutes":50},"type":"temporal"},"y":{"datum":81149}}},
{"data":{"name":"one"},"mark":{"type":"text","color":"#1a8275","fontSize":11,"align":"left","baseline":"middle"},"encoding":{"text":{"value":"74,493"},"x":{"datum":{"year":2026,"month":5,"date":28,"hours":16,"minutes":26},"type":"temporal"},"y":{"datum":81149}}},
{"data":{"name":"one"},"mark":{"type":"text","color":"#4a4e59","fontSize":11,"align":"left","baseline":"middle"},"encoding":{"text":{"value":"H"},"x":{"datum":{"year":2026,"month":5,"date":31,"hours":5,"minutes":8},"type":"temporal"},"y":{"datum":81149}}},
{"data":{"name":"one"},"mark":{"type":"text","color":"#1a8275","fontSize":11,"align":"left","baseline":"middle"},"encoding":{"text":{"value":"75,006"},"x":{"datum":{"year":2026,"month":5,"date":31,"hours":16,"minutes":14},"type":"temporal"},"y":{"datum":81149}}},
{"data":{"name":"one"},"mark":{"type":"text","color":"#4a4e59","fontSize":11,"align":"left","baseline":"middle"},"encoding":{"text":{"value":"L"},"x":{"datum":{"year":2026,"month":6,"date":3,"hours":2,"minutes":56},"type":"temporal"},"y":{"datum":81149}}},
{"data":{"name":"one"},"mark":{"type":"text","color":"#1a8275","fontSize":11,"align":"left","baseline":"middle"},"encoding":{"text":{"value":"74,493"},"x":{"datum":{"year":2026,"month":6,"date":3,"hours":12,"minutes":26},"type":"temporal"},"y":{"datum":81149}}},
{"data":{"name":"one"},"mark":{"type":"text","color":"#4a4e59","fontSize":11,"align":"left","baseline":"middle"},"encoding":{"text":{"value":"C"},"x":{"datum":{"year":2026,"month":6,"date":5,"hours":23,"minutes":2},"type":"temporal"},"y":{"datum":81149}}},
{"data":{"name":"one"},"mark":{"type":"text","color":"#1a8275","fontSize":11,"align":"left","baseline":"middle"},"encoding":{"text":{"value":"74,981"},"x":{"datum":{"year":2026,"month":6,"date":6,"hours":8,"minutes":32},"type":"temporal"},"y":{"datum":81149}}},
{"data":{"name":"one"},"mark":{"type":"text","color":"#1a8275","fontSize":11,"align":"left","baseline":"middle"},"encoding":{"text":{"value":"+513 (+0.69%)"},"x":{"datum":{"year":2026,"month":6,"date":8,"hours":20,"minutes":20},"type":"temporal"},"y":{"datum":81149}}},
{"data":{"name":"one"},"mark":{"type":"point","filled":false,"shape":"circle","stroke":"#9c27b0","strokeWidth":1.5,"size":289,"opacity":1},"encoding":{"x":{"datum":{"year":2026,"month":8,"date":21,"hours":6,"minutes":30},"type":"temporal"},"y":{"datum":56049}}},
{"data":{"name":"one"},"mark":{"type":"point","filled":true,"shape":"M0.3,-1L-0.5,0.15L-0.05,0.15L-0.3,1L0.5,-0.2L0.05,-0.2Z","color":"#c042d8","size":100,"opacity":1},"encoding":{"x":{"datum":{"year":2026,"month":8,"date":21,"hours":6,"minutes":30},"type":"temporal"},"y":{"datum":56049}}},
{"data":{"name":"one"},"mark":{"type":"point","filled":true,"shape":"M0,-1Q0.15,-0.15,1,0Q0.15,0.15,0,1Q-0.15,0.15,-1,0Q-0.15,-0.15,0,-1Z","color":"#4a30b0","size":90,"opacity":1},"encoding":{"x":{"datum":{"year":2026,"month":8,"date":20,"hours":15,"minutes":10},"type":"temporal"},"y":{"datum":55937}}},
{"data":{"name":"one"},"mark":{"type":"point","filled":true,"shape":"circle","color":"#f23645","size":25,"opacity":1},"encoding":{"x":{"datum":{"year":2026,"month":8,"date":21,"hours":16},"type":"temporal"},"y":{"datum":56271}}},
{"data":{"name":"one"},"mark":{"type":"text","color":"#131722","fontSize":10.5,"align":"left","baseline":"middle"},"encoding":{"text":{"value":"YordanLyanchev created with TradingView.com, Aug 21, 2026 07:57 UTC+3"},"x":{"datum":{"year":2026,"month":5,"date":16,"hours":7,"minutes":2},"type":"temporal"},"y":{"datum":82003}}},
{"data":{"name":"one"},"mark":{"type":"point","filled":true,"shape":"M-1,-0.556L-0.222,-0.556L-0.222,0.556L-0.611,0.556L-0.611,-0.194L-1,-0.194ZM-0.078,-0.367A0.189,0.189,0,1,0,0.3,-0.367A0.189,0.189,0,1,0,-0.078,-0.367ZM0.556,-0.556L1,-0.556L0.389,0.556L-0.111,0.556Z","color":"#131722","size":729,"opacity":1},"encoding":{"x":{"datum":{"year":2026,"month":5,"date":17,"hours":6},"type":"temporal"},"y":{"datum":53766}}},
{"data":{"name":"one"},"mark":{"type":"text","color":"#131722","fontSize":17.5,"fontWeight":600,"font":"Inter","align":"left","baseline":"middle"},"encoding":{"text":{"value":"TradingView"},"x":{"datum":{"year":2026,"month":5,"date":18,"hours":13},"type":"temporal"},"y":{"datum":53766}}}
]
}
